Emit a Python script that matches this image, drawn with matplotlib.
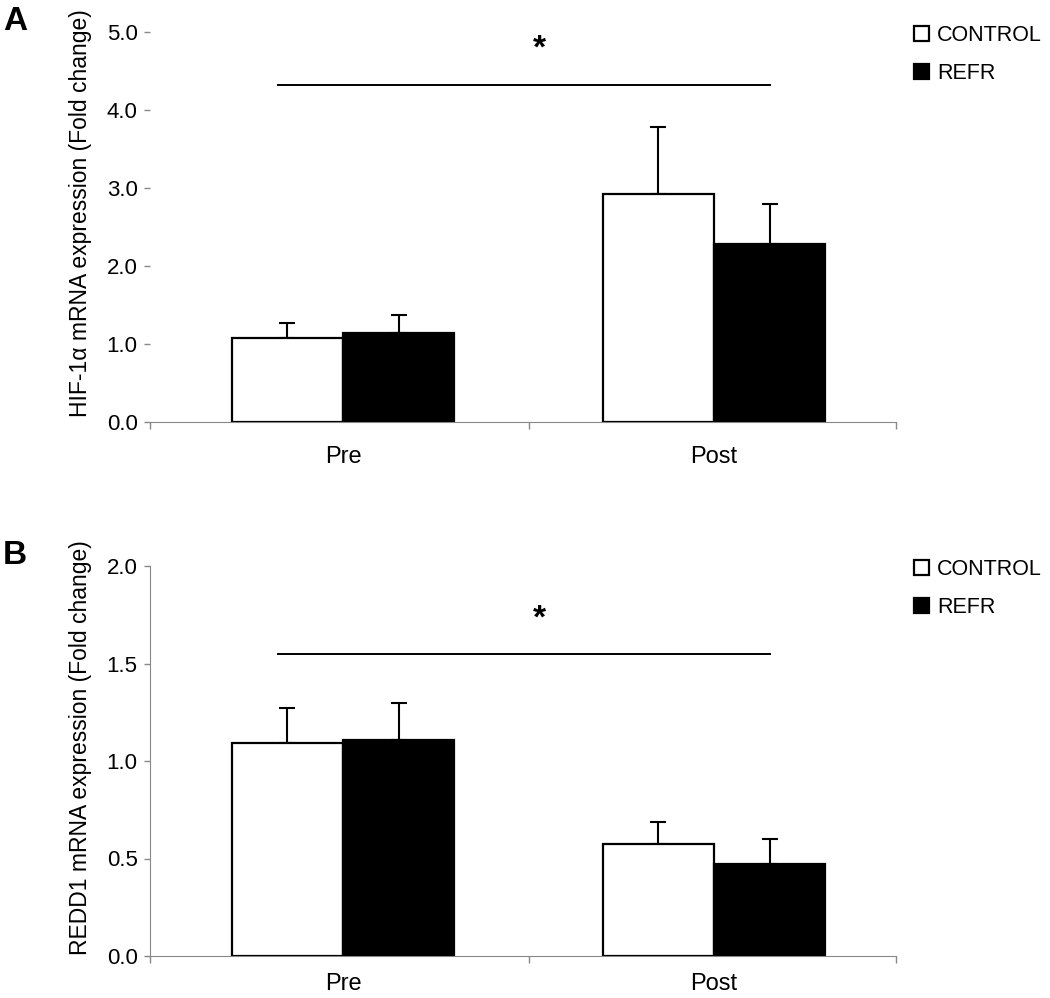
import numpy as np
import matplotlib.pyplot as plt

plt.rcParams['font.family'] = ['Liberation Sans', 'DejaVu Sans']

groups = ["Pre", "Post"]
series = ["CONTROL", "REFR"]

hif_control = [1.08, 2.92]
hif_control_err = [0.19, 0.86]
hif_refr = [1.14, 2.28]
hif_refr_err = [0.23, 0.52]

redd_control = [1.09, 0.575]
redd_control_err = [0.18, 0.11]
redd_refr = [1.11, 0.47]
redd_refr_err = [0.19, 0.13]

W, H = 1050, 998
fig = plt.figure(figsize=(W / 100, H / 100), dpi=100)


def panel(rect, ctrl, ctrl_err, refr, refr_err, ymax, ystep, ylabel,
          sig_y, star_y, letter, show_left, xpad):
    ax = fig.add_axes(rect)
    x = np.arange(len(groups))
    bw = 0.30
    ax.bar(x - bw / 2, ctrl, bw, color="white", edgecolor="black", linewidth=1.6,
           label=series[0], zorder=3)
    ax.bar(x + bw / 2, refr, bw, color="black", edgecolor="black", linewidth=1.6,
           label=series[1], zorder=3)
    ek = dict(ecolor="black", elinewidth=1.5, capsize=6, capthick=1.5, fmt="none", zorder=2)
    ax.errorbar(x - bw / 2, ctrl, yerr=[np.zeros(len(ctrl)), ctrl_err], **ek)
    ax.errorbar(x + bw / 2, refr, yerr=[np.zeros(len(refr)), refr_err], **ek)

    ax.set_xlim(-0.52, 1.49)
    ax.set_ylim(0, ymax)
    ticks = np.arange(0, ymax + 1e-9, ystep)
    ax.set_yticks(ticks)
    ax.set_yticklabels([f"{v:.1f}" for v in ticks])
    ax.set_xticks(x)
    ax.set_xticklabels(groups)
    ax.set_xticks([-0.52, 0.5, 1.49], minor=True)
    ax.tick_params(axis="x", which="major", length=0, labelsize=17, pad=xpad)
    ax.tick_params(axis="x", which="minor", length=5, color="#888888", width=1)
    ax.tick_params(axis="y", length=4, color="#888888", width=1, labelsize=16, pad=5)

    for s in ["top", "right"]:
        ax.spines[s].set_visible(False)
    ax.spines["bottom"].set_color("#888888")
    ax.spines["left"].set_color("#888888")
    ax.spines["left"].set_visible(show_left)
    ax.set_ylabel(ylabel, fontsize=16.5)
    ax.yaxis.set_label_coords(-0.078, 0.535)

    ax.plot([-0.175, 1.15], [sig_y, sig_y], color="black", linewidth=1.4,
            clip_on=False)
    ax.text(0.53, star_y, "*", ha="center", va="center", fontsize=24,
            fontweight="bold")
    ax.legend(loc="upper left", bbox_to_anchor=(1.012, 1.04), frameon=False,
              fontsize=15.5, handlelength=0.7, handleheight=0.7, handletextpad=0.4,
              labelspacing=0.8, borderaxespad=0)
    fig.text(0.003, rect[1] + rect[3] + 0.011, letter, fontsize=24,
             fontweight="bold", va="center")
    return ax


def rect_px(left, right, top, bottom):
    return [left / W, 1 - bottom / H, (right - left) / W, (bottom - top) / H]


panel(rect_px(150, 896, 32, 422), hif_control, hif_control_err, hif_refr, hif_refr_err,
      5.0, 1.0, "HIF-1α mRNA expression (Fold change)", 4.32, 4.78, "A", False, 17)
panel(rect_px(150, 896, 566, 956), redd_control, redd_control_err, redd_refr,
      redd_refr_err, 2.0, 0.5, "REDD1 mRNA expression (Fold change)", 1.55, 1.73,
      "B", True, 12)

fig.savefig("out.png", dpi=100, facecolor="white")
